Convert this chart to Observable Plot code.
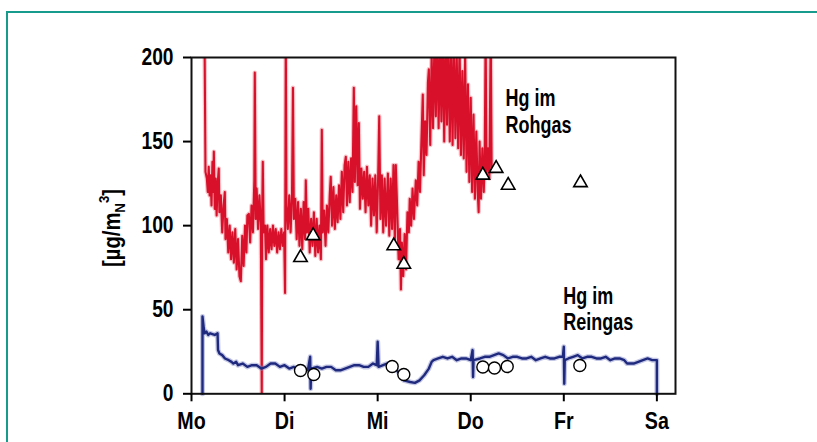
<!DOCTYPE html>
<html><head><meta charset="utf-8">
<script src="https://cdn.jsdelivr.net/npm/d3@7"></script>
<script src="https://cdn.jsdelivr.net/npm/@observablehq/plot@0.6"></script>
<style>
html,body{margin:0;padding:0;background:#fff;overflow:hidden;width:817px;height:442px;}
#wrap{position:relative;width:817px;height:442px;overflow:hidden;}
#border{position:absolute;left:6px;top:11px;width:900px;height:600px;border:2px solid #169b8c;box-sizing:border-box;}
#chart{position:absolute;left:0;top:0;}
</style></head><body><div id="wrap"><div id="border"></div><div id="chart"></div></div>
<script>
const FONT = '"Liberation Sans",Arial,Helvetica,sans-serif';
const dayLabels = ["Mo","Di","Mi","Do","Fr","Sa"];
const dayTicks = [0,1,2,3,4,5];
const yTicks = [0,50,100,150,200];

// Hg im Rohgas (continuous) [day, value]
const rohgas = [
[0.100,215],[0.140,215],[0.150,132],[0.165,128],[0.175,120],[0.185,135],[0.195,118],[0.205,130],[0.215,112],[0.225,138],
[0.235,120],[0.240,144],[0.250,110],[0.260,128],[0.270,106],[0.280,124],[0.293,134],[0.300,108],[0.315,118],[0.330,96],
[0.345,112],[0.358,120],[0.365,92],[0.380,104],[0.395,84],[0.410,100],[0.425,80],[0.440,96],[0.455,78],[0.470,98],
[0.485,74],[0.500,92],[0.515,70],[0.530,67],[0.545,94],[0.560,76],[0.575,100],[0.590,84],[0.600,106],[0.616,107],
[0.630,90],[0.645,112],[0.660,96],[0.675,127],[0.680,191],[0.690,104],[0.700,122],[0.715,98],[0.730,118],[0.745,100],
[0.755,0],[0.760,110],[0.766,138],[0.775,96],[0.790,100],[0.800,80],[0.815,100],[0.830,84],[0.845,98],[0.860,86],
[0.875,100],[0.890,88],[0.905,98],[0.920,84],[0.935,96],[0.950,86],[0.965,98],[0.980,88],[0.995,96],[1.005,60],
[1.013,215],[1.020,112],[1.035,98],[1.050,118],[1.065,96],[1.080,119],[1.090,182],[1.100,104],[1.115,116],[1.130,92],
[1.145,114],[1.160,88],[1.175,110],[1.190,86],[1.205,114],[1.220,92],[1.228,127],[1.240,96],[1.255,110],[1.270,84],
[1.285,104],[1.300,88],[1.315,108],[1.330,82],[1.345,104],[1.360,84],[1.375,100],[1.390,80],[1.400,157],[1.410,96],
[1.425,109],[1.440,88],[1.455,112],[1.470,96],[1.485,118],[1.496,129],[1.510,100],[1.525,123],[1.540,98],[1.555,118],
[1.570,102],[1.585,124],[1.600,104],[1.615,132],[1.630,108],[1.645,136],[1.658,141],[1.670,112],[1.685,138],[1.700,114],
[1.715,140],[1.730,120],[1.744,182],[1.755,126],[1.770,171],[1.785,124],[1.798,161],[1.810,110],[1.825,134],[1.840,116],
[1.855,132],[1.870,108],[1.885,135],[1.900,112],[1.915,130],[1.930,100],[1.945,128],[1.960,106],[1.975,130],[1.990,96],
[2.005,128],[2.017,165],[2.030,104],[2.045,130],[2.060,96],[2.075,128],[2.090,100],[2.110,131],[2.125,94],[2.140,128],
[2.155,98],[2.170,136],[2.185,90],[2.195,136],[2.210,110],[2.225,80],[2.240,98],[2.250,62],[2.260,90],[2.275,70],
[2.290,95],[2.305,74],[2.320,108],[2.335,96],[2.345,116],[2.360,100],[2.375,122],[2.390,104],[2.410,127],[2.425,112],
[2.440,138],[2.455,120],[2.470,150],[2.485,178],[2.495,130],[2.510,162],[2.525,142],[2.540,185],[2.550,193],[2.565,148],
[2.580,202],[2.595,158],[2.610,210],[2.625,165],[2.640,215],[2.655,158],[2.670,208],[2.685,162],[2.700,215],[2.715,150],
[2.730,212],[2.745,160],[2.760,215],[2.775,150],[2.790,206],[2.805,148],[2.820,212],[2.835,152],[2.850,200],[2.865,146],
[2.880,208],[2.895,142],[2.910,192],[2.925,140],[2.940,202],[2.955,132],[2.970,184],[2.985,126],[3.000,176],[3.015,120],
[3.030,166],[3.045,116],[3.060,156],[3.075,120],[3.085,108],[3.095,150],[3.110,116],[3.125,146],[3.140,120],[3.150,138],
[3.160,215],[3.170,130],[3.185,146],[3.200,128],[3.215,215],[3.225,132]
];

// Hg im Reingas (continuous) [day, value]
const reingas = [
[0.118,0],[0.118,46],[0.130,40],[0.140,36],[0.160,37],[0.180,35],[0.200,36],[0.250,35],[0.280,36],[0.285,26],
[0.300,24],[0.330,23],[0.360,21],[0.400,20],[0.430,19],[0.450,18],[0.480,19],[0.500,17],[0.550,18],[0.600,16],
[0.650,17],[0.700,17],[0.750,15],[0.800,16],[0.850,18],[0.900,18],[0.950,16],[1.000,17],[1.050,15],[1.100,16],
[1.150,14],[1.200,16],[1.250,14],[1.275,22],[1.280,3],[1.285,15],[1.350,16],[1.400,15],[1.450,16],[1.500,16],
[1.550,14],[1.600,14],[1.650,15],[1.700,16],[1.750,17],[1.800,17],[1.850,16],[1.900,16],[1.950,18],[1.990,17],
[2.000,31],[2.010,16],[2.100,18],[2.180,16],[2.220,13],[2.280,8],[2.350,7],[2.400,6.5],[2.450,8],[2.500,11],
[2.550,15],[2.580,19],[2.600,20],[2.650,21],[2.700,22],[2.750,21],[2.800,22],[2.850,20],[2.900,21],[2.950,21],
[3.000,20],[3.020,26],[3.025,10],[3.030,20],[3.100,21],[3.150,22],[3.200,22],[3.250,23],[3.300,24],[3.350,23],
[3.400,21],[3.450,22],[3.500,22],[3.550,21],[3.600,21],[3.650,22],[3.700,20],[3.750,21],[3.800,22],[3.850,21],
[3.900,21],[3.950,22],[3.990,22],[4.000,28],[4.005,6],[4.010,20],[4.050,21],[4.100,22],[4.150,23],[4.200,21],
[4.250,22],[4.300,22],[4.350,21],[4.400,21],[4.450,22],[4.500,20],[4.550,21],[4.600,21],[4.650,20],[4.680,18],
[4.750,18],[4.800,19],[4.850,20],[4.900,21],[4.950,20],[5.000,20],[5.000,0]
];

// Einzelmessungen
const probeRohT = [1.171,1.307,2.173,2.281,3.130,3.273,3.402,4.179];
const probeRohV = [81,94,88,77,130,134,124,125.5];
const probeReinT = [1.171,1.314,2.156,2.281,3.130,3.255,3.392,4.172];
const probeReinV = [13.9,11.5,16.2,11.5,15.9,15.3,16.2,16.8];

const labelRoh = [{t:3.373, v:182.3, text:"Hg im\nRohgas"}];
const labelRein = [{t:3.993, v:64.5, text:"Hg im\nReingas"}];

const roh = rohgas.map(([t,v])=>({t,v}));
const rein = reingas.map(([t,v])=>({t,v}));
const pRoh = probeRohT.map((t,i)=>({t, v:probeRohV[i]}));
const pRein = probeReinT.map((t,i)=>({t, v:probeReinV[i]}));

const plot = Plot.plot({
  width:817, height:442,
  marginLeft:191, marginRight:142, marginTop:57, marginBottom:48.7,
  style:{fontFamily:FONT, fontWeight:"bold", fontSize:"24px", background:"transparent", color:"#000", overflow:"visible"},
  x:{domain:[0,5.2]},
  y:{domain:[0,200]},
  marks:[
    Plot.line(roh, {x:"t", y:"v", stroke:"#f07a86", strokeWidth:4.5, strokeOpacity:0.45, clip:true}),
    Plot.line(roh, {x:"t", y:"v", stroke:"#d8102a", strokeWidth:2.1, clip:true}),
    Plot.line(rein, {x:"t", y:"v", stroke:"#7f86c4", strokeWidth:5, strokeOpacity:0.45}),
    Plot.line(rein, {x:"t", y:"v", stroke:"#1f2a7e", strokeWidth:2.4}),
    Plot.frame({stroke:"#111", strokeWidth:2}),
    Plot.axisX({ticks:dayTicks, tickFormat:d=>dayLabels[d], tickSize:8, tickPadding:10, strokeWidth:2, label:null, fill:"#000"}),
    Plot.axisY({ticks:yTicks, tickSize:8, tickPadding:10, strokeWidth:2, label:null, fill:"#000"}),
    Plot.dot(pRoh, {x:"t", y:"v", symbol:"triangle", r:5, fill:"#fff", stroke:"#000", strokeWidth:1.6}),
    Plot.dot(pRein, {x:"t", y:"v", symbol:"circle", r:6, fill:"#fff", stroke:"#000", strokeWidth:1.4}),
    Plot.text(labelRoh, {x:"t", y:"v", text:"text", textAnchor:"start", lineAnchor:"top", lineHeight:1.11, fontSize:24, fontWeight:"bold", fill:"#000"}),
    Plot.text(labelRein, {x:"t", y:"v", text:"text", textAnchor:"start", lineAnchor:"top", lineHeight:1.1, fontSize:24, fontWeight:"bold", fill:"#000"})
  ]
});

const svg = d3.select(plot);
// condensed look: scale text horizontally around its anchor
function condense(sel, k){
  sel.each(function(){
    const tr = this.getAttribute("transform") || "";
    this.setAttribute("transform", tr + ` scale(${k},1)`);
  });
}
condense(svg.selectAll("g[aria-label='x-axis tick label'] text"), 0.82);
condense(svg.selectAll("g[aria-label='y-axis tick label'] text"), 0.8);
condense(svg.selectAll("g[aria-label='text'] text"), 0.75);

const yl = svg.append("text")
  .attr("transform","translate(120,228) rotate(-90) scale(0.88,1)")
  .attr("text-anchor","middle")
  .attr("font-family",FONT).attr("font-weight","bold").attr("font-size",23).attr("fill","#000");
yl.append("tspan").text("[µg/m");
yl.append("tspan").attr("font-size",15).attr("dy",5).text("N");
yl.append("tspan").attr("font-size",15).attr("dy",-16).text("3");
yl.append("tspan").attr("dy",11).text("]");

document.getElementById("chart").appendChild(plot);
</script></body></html>
